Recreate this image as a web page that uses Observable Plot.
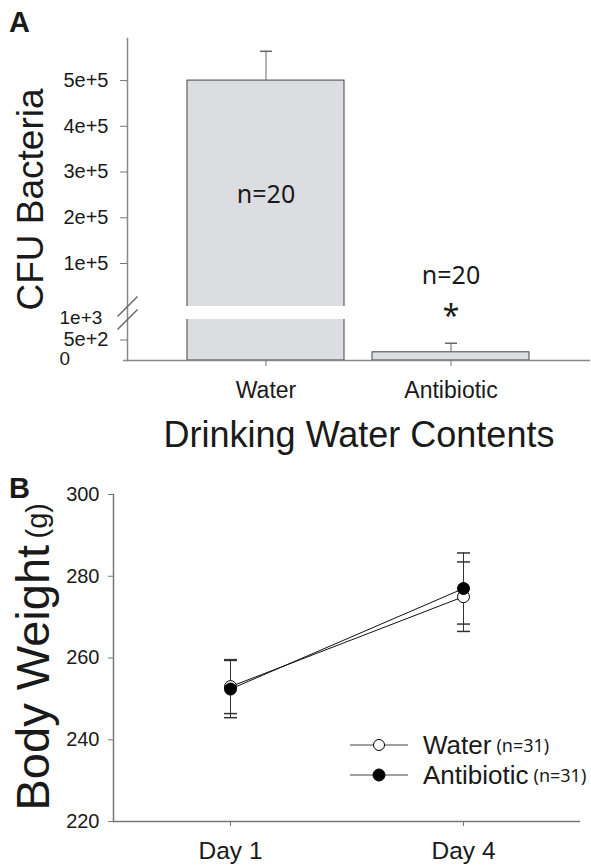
<!DOCTYPE html>
<html><head><meta charset="utf-8">
<script src="https://cdn.jsdelivr.net/npm/d3@7"></script>
<script src="https://cdn.jsdelivr.net/npm/@observablehq/plot@0.6"></script>
<style>
body{margin:0;background:#fff;}
#wrap{position:relative;width:591px;height:867px;font-family:"Liberation Sans",Arial,sans-serif;color:#1a1a1a;}
#wrap svg{display:block;}
.plabel{position:absolute;font-weight:bold;font-size:29px;line-height:1;left:9px;}
.legend{position:absolute;left:348px;top:730px;}
.legend .row{height:30px;display:flex;align-items:center;white-space:nowrap;}
.legend .big{font-size:26px;margin-left:13px;}
.legend .small{font-size:18px;font-family:"Noto Sans",sans-serif;margin-left:5px;}
</style></head><body><div id="wrap"></div>
<script>
// ---- Panel A data ----
const groups = ["Water", "Antibiotic"];
const cfuMean = [500000, 200];
const cfuErr = [64000, 220];
const cfuN = ["n=20", "n=20"];
const cfuSig = ["", "*"];
const cfuTicks = [500, 100000, 200000, 300000, 400000, 500000];
const cfuTickLabels = ["5e+2", "1e+5", "2e+5", "3e+5", "4e+5", "5e+5"];
const cfuExtraTicks = [0, 1000];
const cfuExtraLabels = ["0", "1e+3"];
const breakLow = 1000, breakHigh = 6000;

// ---- Panel B data ----
const days = ["Day 1", "Day 4"];
const series = ["Water", "Antibiotic"];
const seriesN = ["(n=31)", "(n=31)"];
const waterMean = [253.0, 275.0];
const waterSE = [6.6, 8.5];
const antiMean = [252.4, 277.0];
const antiSE = [7.0, 8.7];
const bwTicks = [220, 240, 260, 280, 300];

const cfu = groups.map((g, i) => ({group: g, mean: cfuMean[i], err: cfuErr[i], n: cfuN[i], sig: cfuSig[i]}));
const extra = cfuExtraTicks.map((v, i) => ({v, t: cfuExtraLabels[i]}));
const bw = [];
days.forEach((d, i) => {
  bw.push({day: d, s: series[0], m: waterMean[i], e: waterSE[i]});
  bw.push({day: d, s: series[1], m: antiMean[i], e: antiSE[i]});
});

const hline = {draw(ctx, size) { const r = Math.sqrt(size / Math.PI); ctx.moveTo(-r, 0); ctx.lineTo(r, 0); }};
const slash = {draw(ctx, size) { const r = Math.sqrt(size / Math.PI); ctx.moveTo(-r, r); ctx.lineTo(r, -r); }};
const FONT = "Liberation Sans, Arial, sans-serif";

const plotA = Plot.plot({
  width: 591, height: 455, marginLeft: 127, marginRight: 1, marginTop: 38, marginBottom: 95,
  style: {fontFamily: FONT, background: "white", color: "#1a1a1a", overflow: "visible"},
  x: {type: "band", domain: groups, paddingInner: 0.15, paddingOuter: 0.32, label: null},
  y: {type: "linear", domain: [0, breakLow, breakHigh, 592000], range: [360, 319, 306, 38], label: null},
  marks: [
    Plot.barY(cfu, {x: "group", y1: 0, y2: "mean", fill: "#dcdde0", stroke: "#444", strokeWidth: 1}),
    Plot.barY(cfu.filter(d => d.mean > breakHigh), {x: "group", y1: breakLow, y2: breakHigh, fill: "white", insetLeft: -2, insetRight: -2}),
    Plot.ruleX(cfu, {x: "group", y1: "mean", y2: d => d.mean + d.err, stroke: "#666"}),
    Plot.dot(cfu, {x: "group", y: d => d.mean + d.err, symbol: hline, r: 6, stroke: "#666", fill: "none"}),
    Plot.ruleY([0], {stroke: "#888", strokeWidth: 1.5, insetLeft: -4}),
    Plot.frame({anchor: "left", stroke: "#888", strokeWidth: 1.5}),
    Plot.axisY({ticks: cfuTicks, tickFormat: d => cfuTickLabels[cfuTicks.indexOf(d)], tickSize: 7, tickPadding: 12, fontSize: 20, stroke: "#777", label: null}),
    Plot.text(extra, {y: "v", text: "t", frameAnchor: "left", textAnchor: "start", dx: -68, dy: -2, fontSize: 19}),
    Plot.dot([breakLow, breakHigh], {y: d => d, frameAnchor: "left", symbol: slash, r: 10, stroke: "#666", fill: "none"}),
    Plot.axisX({tickSize: 6, tickPadding: 15, fontSize: 23, stroke: "#777", label: null}),
    Plot.text(cfu.filter(d => d.mean > breakHigh), {x: "group", y: d => d.mean / 2, text: "n", fontSize: 25, fontFamily: "Noto Sans"}),
    Plot.text(cfu.filter(d => d.mean <= breakLow), {x: "group", y: d => d.mean + d.err, text: "n", dy: -67, fontSize: 25, fontFamily: "Noto Sans"}),
    Plot.text(cfu.filter(d => d.sig), {x: "group", y: d => d.mean + d.err, text: "sig", dy: -27, fontSize: 30, fontFamily: "Noto Sans"}),
    Plot.text(["Drinking Water Contents"], {frameAnchor: "bottom", lineAnchor: "bottom", dy: 86, fontSize: 36}),
    Plot.text(["CFU Bacteria"], {frameAnchor: "left", rotate: -90, textAnchor: "middle", lineAnchor: "bottom", dx: -85, fontSize: 37})
  ]
});

const plotB = Plot.plot({
  width: 591, height: 412, marginLeft: 113, marginRight: 11, marginTop: 39, marginBottom: 46,
  style: {fontFamily: FONT, background: "white", color: "#1a1a1a", overflow: "visible"},
  x: {type: "point", domain: days, padding: 0.5, label: null},
  y: {domain: [220, 300], label: null},
  color: {domain: series, range: ["white", "black"]},
  marks: [
    Plot.frame({anchor: "left", stroke: "#777", strokeWidth: 1.5}),
    Plot.ruleY([220], {stroke: "#777", strokeWidth: 1.5}),
    Plot.axisY({ticks: bwTicks, tickSize: 5, tickPadding: 9, fontSize: 20, stroke: "#777", label: null}),
    Plot.axisX({tickSize: 5, tickPadding: 15, fontSize: 24.5, stroke: "#777", label: null}),
    Plot.ruleX(bw, {x: "day", y1: d => d.m - d.e, y2: d => d.m + d.e, stroke: "#333"}),
    Plot.dot(bw, {x: "day", y: d => d.m - d.e, symbol: hline, r: 6.5, stroke: "#333", fill: "none"}),
    Plot.dot(bw, {x: "day", y: d => d.m + d.e, symbol: hline, r: 6.5, stroke: "#333", fill: "none"}),
    Plot.line(bw, {x: "day", y: "m", z: "s", stroke: "#111", strokeWidth: 1}),
    Plot.dot(bw, {x: "day", y: "m", r: 6, fill: "s", stroke: "black", strokeWidth: 1}),
    Plot.text(["Body Weight"], {frameAnchor: "bottom-left", rotate: -90, textAnchor: "start", lineAnchor: "bottom", dx: -65, dy: -11, fontSize: 47}),
    Plot.text(["(g)"], {frameAnchor: "bottom-left", rotate: -90, textAnchor: "start", lineAnchor: "bottom", dx: -67, dy: -283, fontSize: 29})
  ]
});

const wrap = document.getElementById("wrap");
wrap.appendChild(plotA);
wrap.appendChild(plotB);

const la = document.createElement("div"); la.className = "plabel"; la.style.top = "8px"; la.textContent = "A"; wrap.appendChild(la);
const lb = document.createElement("div"); lb.className = "plabel"; lb.style.top = "474px"; lb.textContent = "B"; wrap.appendChild(lb);

const legend = document.createElement("div");
legend.className = "legend";
series.forEach((s, i) => {
  const row = document.createElement("div");
  row.className = "row";
  const fill = i === 0 ? "white" : "black";
  const rr = i === 0 ? 5.5 : 6;
  row.innerHTML = `<svg width="62" height="30"><line x1="2" x2="60" y1="15" y2="15" stroke="#444" stroke-width="1"/><circle cx="31" cy="15" r="${rr}" fill="${fill}" stroke="black"/></svg><span class="big">${s}</span><span class="small">${seriesN[i]}</span>`;
  legend.appendChild(row);
});
wrap.appendChild(legend);
</script></body></html>
